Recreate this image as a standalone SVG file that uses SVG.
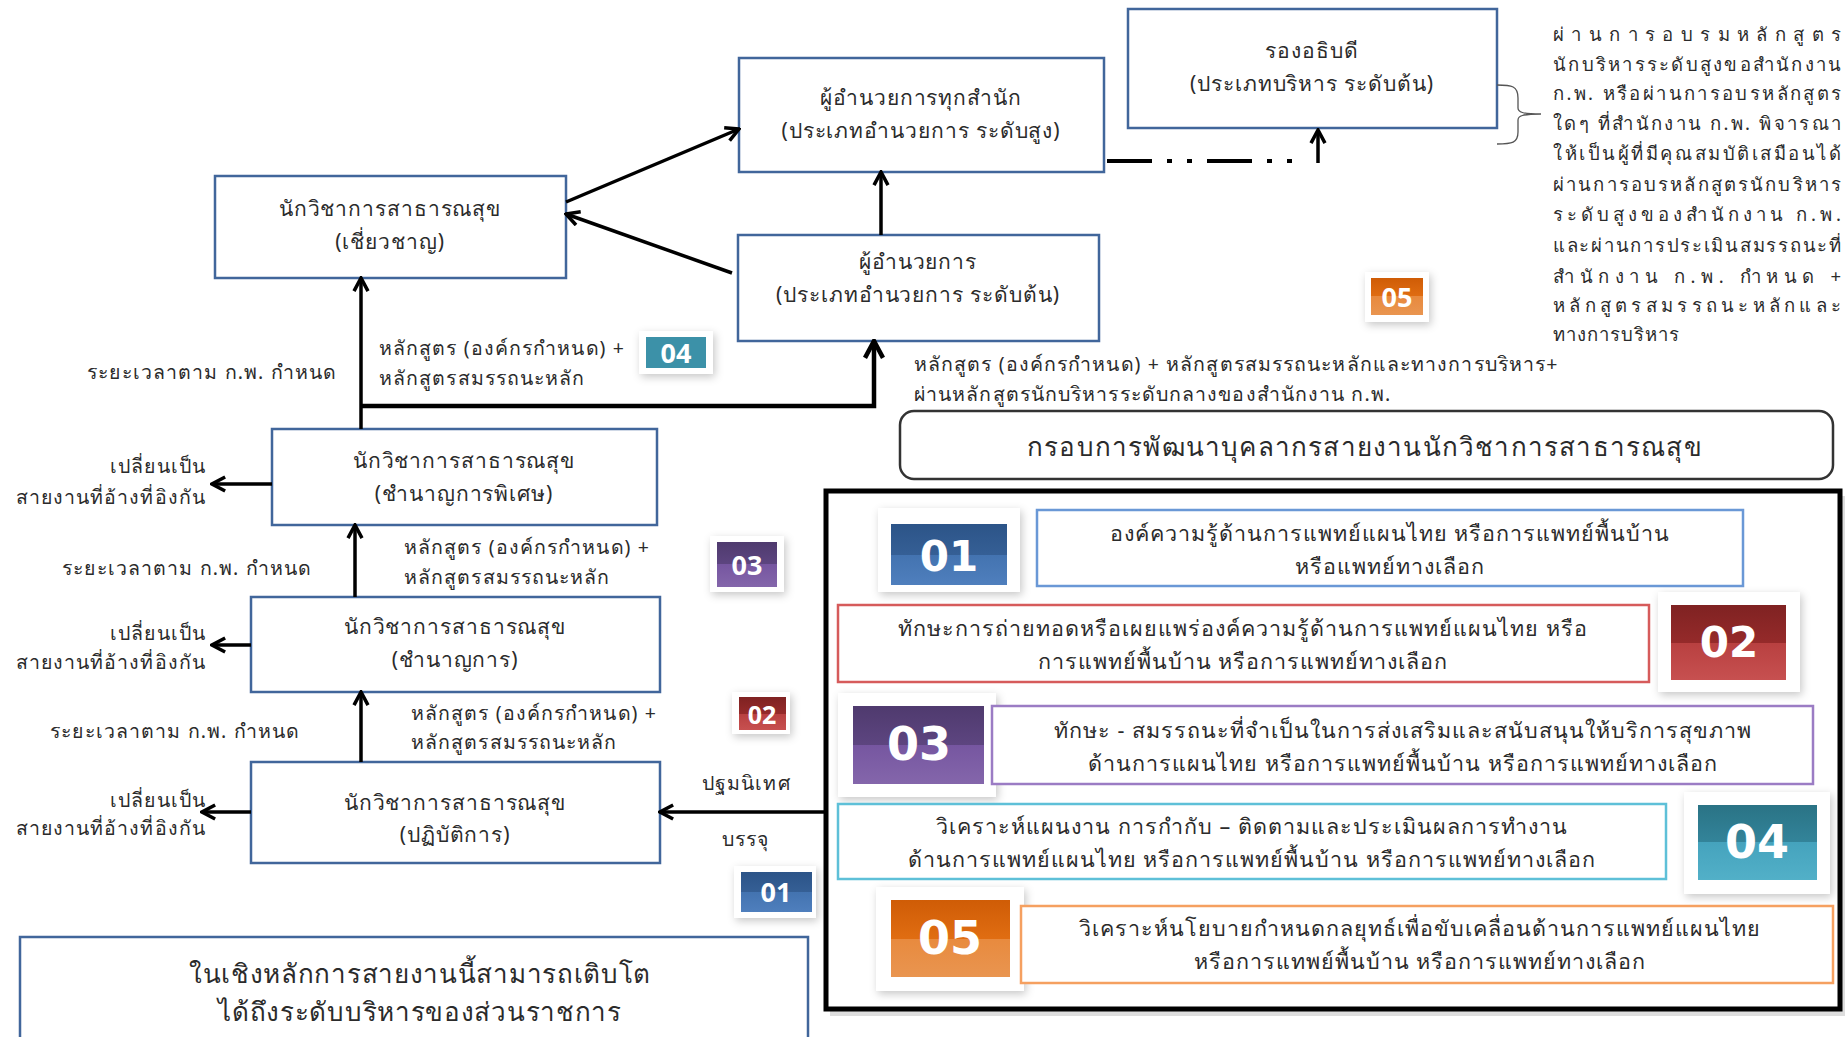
<svg xmlns="http://www.w3.org/2000/svg" width="1845" height="1037" viewBox="0 0 1845 1037">
<defs>
<style>
.t{font-family:"Noto Sans","DejaVu Sans",sans-serif;fill:#2b2b2b;}
.n{font-size:21px;letter-spacing:0.9px;text-anchor:middle;}
.l{font-size:19.5px;letter-spacing:1.1px;}
.r{text-anchor:end;}
.p{font-size:18.5px;}
.node rect{fill:#fff;stroke:#41669b;stroke-width:2.5;}
.c{fill:none;stroke:#000;stroke-width:3.5;}
.bn{font-family:"DejaVu Sans","Liberation Sans",sans-serif;font-weight:bold;fill:#fff;text-anchor:middle;}
.sn{font-family:"Open Sans","Liberation Sans",sans-serif;font-weight:bold;fill:#fff;text-anchor:middle;font-size:27px;}
.it{font-size:21.5px;letter-spacing:1px;text-anchor:middle;}
.wb{fill:#fff;filter:url(#sh);}
</style>
<filter id="sh" x="-30%" y="-30%" width="160%" height="160%"><feDropShadow dx="2" dy="3" stdDeviation="4" flood-color="#000" flood-opacity="0.22"/></filter>
<marker id="ah" viewBox="0 0 10 10" refX="9" refY="5" markerWidth="5" markerHeight="5" orient="auto" markerUnits="strokeWidth"><path d="M1.5,1 L9,5 L1.5,9" fill="none" stroke="#000" stroke-width="2"/></marker>
<linearGradient id="g1" x1="0" y1="0" x2="0" y2="1"><stop offset="0" stop-color="#2c5488"/><stop offset="0.5" stop-color="#355f95"/><stop offset="0.5" stop-color="#4373b0"/><stop offset="1" stop-color="#4f7fbd"/></linearGradient>
<linearGradient id="g2" x1="0" y1="0" x2="0" y2="1"><stop offset="0" stop-color="#7f2222"/><stop offset="0.5" stop-color="#952a2a"/><stop offset="0.5" stop-color="#b84040"/><stop offset="1" stop-color="#c75050"/></linearGradient>
<linearGradient id="g3" x1="0" y1="0" x2="0" y2="1"><stop offset="0" stop-color="#4f3a6e"/><stop offset="0.5" stop-color="#5d4580"/><stop offset="0.5" stop-color="#7656a0"/><stop offset="1" stop-color="#8466ab"/></linearGradient>
<linearGradient id="g4" x1="0" y1="0" x2="0" y2="1"><stop offset="0" stop-color="#2a7385"/><stop offset="0.5" stop-color="#33849a"/><stop offset="0.5" stop-color="#45a3bd"/><stop offset="1" stop-color="#52b0c8"/></linearGradient>
<linearGradient id="g5" x1="0" y1="0" x2="0" y2="1"><stop offset="0" stop-color="#cf5c06"/><stop offset="0.5" stop-color="#e06d12"/><stop offset="0.5" stop-color="#e88a3e"/><stop offset="1" stop-color="#e99550"/></linearGradient>
</defs>
<rect width="1845" height="1037" fill="#fff"/>

<!-- left column nodes -->
<g id="n-expert" class="node"><rect x="215" y="176" width="351" height="102"/>
<text class="t n" x="390" y="216">นักวิชาการสาธารณสุข</text><text class="t n" x="390" y="249">(เชี่ยวชาญ)</text></g>
<g id="n-dir-high" class="node"><rect x="739" y="58" width="365" height="114"/>
<text class="t n" x="921" y="105">ผู้อำนวยการทุกสำนัก</text><text class="t n" x="921" y="138">(ประเภทอำนวยการ ระดับสูง)</text></g>
<g id="n-deputy" class="node"><rect x="1128" y="9" width="369" height="119"/>
<text class="t n" x="1312" y="58">รองอธิบดี</text><text class="t n" x="1312" y="91">(ประเภทบริหาร ระดับต้น)</text></g>
<g id="n-dir-low" class="node"><rect x="738" y="235" width="361" height="106"/>
<text class="t n" x="918" y="269">ผู้อำนวยการ</text><text class="t n" x="918" y="302">(ประเภทอำนวยการ ระดับต้น)</text></g>
<g id="n-senior" class="node"><rect x="272" y="429" width="385" height="96"/>
<text class="t n" x="464" y="468">นักวิชาการสาธารณสุข</text><text class="t n" x="464" y="501">(ชำนาญการพิเศษ)</text></g>
<g id="n-pro" class="node"><rect x="251" y="597" width="409" height="95"/>
<text class="t n" x="455" y="634">นักวิชาการสาธารณสุข</text><text class="t n" x="455" y="667">(ชำนาญการ)</text></g>
<g id="n-op" class="node"><rect x="251" y="762" width="409" height="101"/>
<text class="t n" x="455" y="810">นักวิชาการสาธารณสุข</text><text class="t n" x="455" y="842">(ปฏิบัติการ)</text></g>
<g id="n-note" class="node"><rect x="20" y="937" width="788" height="110"/>
<text class="t" style="font-size:26px;letter-spacing:0.7px;text-anchor:middle" x="420" y="983">ในเชิงหลักการสายงานนี้สามารถเติบโต</text>
<text class="t" style="font-size:26px;letter-spacing:0.7px;text-anchor:middle" x="420" y="1021">ได้ถึงระดับบริหารของส่วนราชการ</text></g>

<!-- connectors -->
<g id="connectors">
<path class="c" d="M566,202 L739,129" marker-end="url(#ah)"/>
<path class="c" d="M732,273 L566,214" marker-end="url(#ah)"/>
<path class="c" d="M881,235 L881,172" marker-end="url(#ah)"/>
<path class="c" d="M361,429 L361,278" marker-end="url(#ah)"/>
<path class="c" d="M361,406 L874,406 L874,341" marker-end="url(#ah)" style="stroke-width:4.5"/>
<path class="c" d="M355,597 L355,525" marker-end="url(#ah)"/>
<path class="c" d="M361,762 L361,692" marker-end="url(#ah)"/>
<path class="c" d="M272,484 L212,484" marker-end="url(#ah)"/>
<path class="c" d="M251,645 L212,645" marker-end="url(#ah)"/>
<path class="c" d="M251,812 L202,812" marker-end="url(#ah)"/>
<path class="c" d="M826,812 L660,812" marker-end="url(#ah)"/>
<path class="c" d="M1107,161 L1300,161" style="stroke-width:4;stroke-dasharray:45 15 5 15 5 15"/>
<path class="c" d="M1318,163 L1318,130" marker-end="url(#ah)"/>
<path d="M1497,85 C1512,85 1518,86 1518,98 L1518,108 C1518,112 1522,114 1541,114 C1522,114 1518,116 1518,120 L1518,132 C1518,143 1512,144 1497,144" fill="none" stroke="#555" stroke-width="1.3"/>
</g>

<!-- labels -->
<g id="labels">
<text class="t l r" x="337" y="379">ระยะเวลาตาม ก.พ. กำหนด</text>
<text class="t l r" x="312" y="575">ระยะเวลาตาม ก.พ. กำหนด</text>
<text class="t l r" x="300" y="738">ระยะเวลาตาม ก.พ. กำหนด</text>
<text class="t l" x="379" y="355">หลักสูตร (องค์กรกำหนด) +</text>
<text class="t l" x="379" y="385">หลักสูตรสมรรถนะหลัก</text>
<text class="t l" x="404" y="554">หลักสูตร (องค์กรกำหนด) +</text>
<text class="t l" x="404" y="584">หลักสูตรสมรรถนะหลัก</text>
<text class="t l" x="411" y="720">หลักสูตร (องค์กรกำหนด) +</text>
<text class="t l" x="411" y="749">หลักสูตรสมรรถนะหลัก</text>
<text class="t l r" x="206" y="473">เปลี่ยนเป็น</text>
<text class="t l r" x="206" y="504">สายงานที่อ้างที่อิงกัน</text>
<text class="t l r" x="206" y="640">เปลี่ยนเป็น</text>
<text class="t l r" x="206" y="669">สายงานที่อ้างที่อิงกัน</text>
<text class="t l r" x="206" y="807">เปลี่ยนเป็น</text>
<text class="t l r" x="206" y="835">สายงานที่อ้างที่อิงกัน</text>
<text class="t l" x="702" y="790">ปฐมนิเทศ</text>
<text class="t l" x="722" y="846">บรรจุ</text>
<text class="t l" x="914" y="371">หลักสูตร (องค์กรกำหนด) + หลักสูตรสมรรถนะหลักและทางการบริหาร+</text>
<text class="t l" x="914" y="401">ผ่านหลักสูตรนักบริหารระดับกลางของสำนักงาน ก.พ.</text>
</g>

<!-- right paragraph -->
<g id="note-right" class="t p">
<text x="1553" y="41" textLength="288" lengthAdjust="spacing">ผ่านการอบรมหลักสูตร</text>
<text x="1553" y="71" textLength="288" lengthAdjust="spacing">นักบริหารระดับสูงขอสำนักงาน</text>
<text x="1553" y="100" textLength="288" lengthAdjust="spacing">ก.พ. หรือผ่านการอบรหลักสูตร</text>
<text x="1553" y="130" textLength="288" lengthAdjust="spacing">ใดๆ ที่สำนักงาน ก.พ. พิจารณา</text>
<text x="1553" y="160" textLength="288" lengthAdjust="spacing">ให้เป็นผู้ที่มีคุณสมบัติเสมือนได้</text>
<text x="1553" y="191" textLength="288" lengthAdjust="spacing">ผ่านการอบรหลักสูตรนักบริหาร</text>
<text x="1553" y="221" textLength="288" lengthAdjust="spacing">ระดับสูงของสำนักงาน ก.พ.</text>
<text x="1553" y="252" textLength="288" lengthAdjust="spacing">และผ่านการประเมินสมรรถนะที่</text>
<text x="1553" y="283" textLength="288" lengthAdjust="spacing">สำนักงาน ก.พ. กำหนด +</text>
<text x="1553" y="312" textLength="288" lengthAdjust="spacing">หลักสูตรสมรรถนะหลักและ</text>
<text x="1553" y="341" style="letter-spacing:1px">ทางการบริหาร</text>
</g>

<!-- small badges -->
<g id="b-04s"><rect class="wb" x="639" y="331" width="74" height="43"/><rect x="646" y="337" width="60" height="31" fill="#3c91a8"/><text class="sn" x="676" y="363">04</text></g>
<g id="b-03s"><rect class="wb" x="710" y="536" width="74" height="56"/><rect x="717" y="542" width="60" height="45" fill="url(#g3)"/><text class="sn" x="747" y="575">03</text></g>
<g id="b-02s"><rect class="wb" x="732" y="692" width="58" height="42"/><rect x="739" y="697" width="47" height="33" fill="url(#g2)"/><text class="sn" x="762" y="724" style="font-size:25px">02</text></g>
<g id="b-01s"><rect class="wb" x="734" y="866" width="82" height="52"/><rect x="741" y="872" width="71" height="40" fill="url(#g1)"/><text class="sn" x="776" y="902">01</text></g>
<g id="b-05s"><rect class="wb" x="1365" y="272" width="64" height="50"/><rect x="1371" y="278" width="52" height="37" fill="url(#g5)"/><text class="sn" x="1397" y="307">05</text></g>

<!-- title -->
<g id="title"><rect x="900" y="411" width="933" height="68" rx="14" fill="#fff" stroke="#333" stroke-width="2.5"/>
<text class="t" style="font-size:26px;letter-spacing:1.2px;text-anchor:middle" x="1365" y="456">กรอบการพัฒนาบุคลากรสายงานนักวิชาการสาธารณสุข</text></g>

<!-- competency frame -->
<g id="frame">
<rect x="830" y="496" width="1015" height="520" fill="#bbb" opacity="0.5"/>
<rect x="826" y="491" width="1014" height="518" fill="#fff" stroke="#000" stroke-width="5"/>
</g>

<g id="item-01"><rect class="wb" x="878" y="508" width="142" height="84"/><rect x="891" y="524" width="116" height="61" fill="url(#g1)"/><text class="bn" x="949" y="571" style="font-size:42px">01</text>
<rect x="1037" y="510" width="706" height="76" fill="#fff" stroke="#6a98d6" stroke-width="2.5"/>
<text class="t it" x="1390" y="541">องค์ความรู้ด้านการแพทย์แผนไทย หรือการแพทย์พื้นบ้าน</text><text class="t it" x="1390" y="574">หรือแพทย์ทางเลือก</text></g>

<g id="item-02"><rect class="wb" x="1658" y="592" width="142" height="100"/><rect x="1671" y="605" width="115" height="75" fill="url(#g2)"/><text class="bn" x="1729" y="657" style="font-size:42px">02</text>
<rect x="838" y="605" width="811" height="77" fill="#fff" stroke="#d65b5b" stroke-width="2.5"/>
<text class="t it" x="1243" y="636">ทักษะการถ่ายทอดหรือเผยแพร่องค์ความรู้ด้านการแพทย์แผนไทย หรือ</text><text class="t it" x="1243" y="669">การแพทย์พื้นบ้าน หรือการแพทย์ทางเลือก</text></g>

<g id="item-03"><rect class="wb" x="838" y="693" width="158" height="104"/><rect x="853" y="706" width="131" height="78" fill="url(#g3)"/><text class="bn" x="919" y="760" style="font-size:46px">03</text>
<rect x="992" y="706" width="821" height="78" fill="#fff" stroke="#9b7cc4" stroke-width="2.5"/>
<text class="t it" x="1403" y="738">ทักษะ - สมรรถนะที่จำเป็นในการส่งเสริมและสนับสนุนให้บริการสุขภาพ</text><text class="t it" x="1403" y="771">ด้านการแผนไทย หรือการแพทย์พื้นบ้าน หรือการแพทย์ทางเลือก</text></g>

<g id="item-04"><rect class="wb" x="1684" y="792" width="146" height="102"/><rect x="1698" y="805" width="119" height="75" fill="url(#g4)"/><text class="bn" x="1757" y="858" style="font-size:46px">04</text>
<rect x="838" y="804" width="828" height="75" fill="#fff" stroke="#5ec0d8" stroke-width="2.5"/>
<text class="t it" x="1252" y="834">วิเคราะห์แผนงาน การกำกับ – ติดตามและประเมินผลการทำงาน</text><text class="t it" x="1252" y="867">ด้านการแพทย์แผนไทย หรือการแพทย์พื้นบ้าน หรือการแพทย์ทางเลือก</text></g>

<g id="item-05"><rect class="wb" x="876" y="887" width="148" height="104"/><rect x="891" y="900" width="119" height="77" fill="url(#g5)"/><text class="bn" x="950" y="954" style="font-size:46px">05</text>
<rect x="1021" y="906" width="812" height="77" fill="#fff" stroke="#f5a060" stroke-width="2.5"/>
<text class="t it" x="1420" y="936">วิเคราะห์นโยบายกำหนดกลยุทธ์เพื่อขับเคลื่อนด้านการแพทย์แผนไทย</text><text class="t it" x="1420" y="969">หรือการแทพย์พื้นบ้าน หรือการแพทย์ทางเลือก</text></g>
</svg>
